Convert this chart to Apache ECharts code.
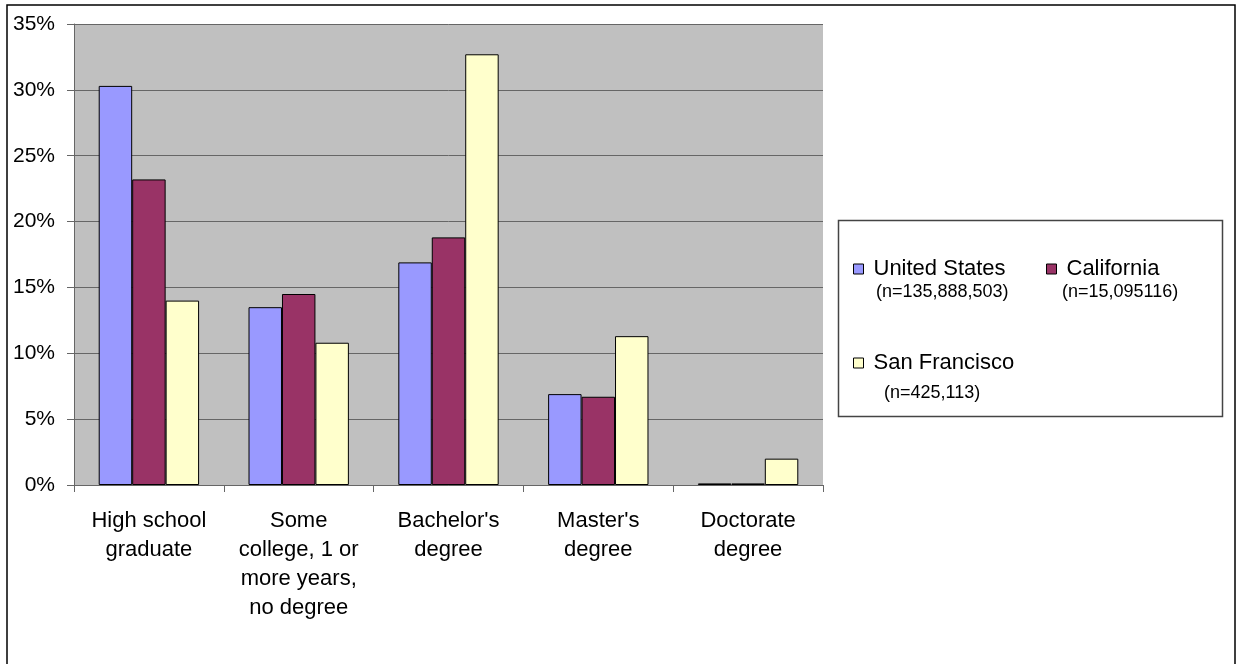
<!DOCTYPE html>
<html>
<head>
<meta charset="utf-8">
<script src="https://cdn.jsdelivr.net/npm/echarts@6/dist/echarts.min.js"></script>
<style>
  html, body { margin: 0; padding: 0; background: #fff; }
  #chart { width: 1236px; height: 664px; }
</style>
</head>
<body>
<div id="chart"></div>
<script>
// Educational attainment, share of population (%)
const categories = [
  'High school\ngraduate',
  'Some\ncollege, 1 or\nmore years,\nno degree',
  "Bachelor's\ndegree",
  "Master's\ndegree",
  'Doctorate\ndegree'
];
const seriesNames = ['United States', 'California', 'San Francisco'];
const sampleSizes = ['(n=135,888,503)', '(n=15,095116)', '(n=425,113)'];
const unitedStates = [30.3, 13.5, 16.9, 6.9, 0.12];
const california   = [23.2, 14.5, 18.8, 6.7, 0.12];
const sanFrancisco = [14.0, 10.8, 32.7, 11.3, 2.0];
const yTicks = { min: 0, max: 35, interval: 5 };

const colors = ['#9999FF', '#993366', '#FFFFCC'];
const values = [unitedStates, california, sanFrancisco];
const FONT = '"Liberation Sans", Arial, sans-serif';

const chart = echarts.init(document.getElementById('chart'), null, { renderer: 'canvas' });

const series = seriesNames.map((name, i) => ({
  name: name,
  type: 'bar',
  data: values[i],
  barGap: '0%',
  barCategoryGap: '33%',
  itemStyle: { color: colors[i], borderColor: '#000', borderWidth: 1 },
  emphasis: { disabled: true }
}));

const legendBase = {
  orient: 'horizontal',
  selectedMode: false,
  icon: 'rect',
  itemWidth: 10,
  itemHeight: 10,
  itemStyle: { borderColor: '#000', borderWidth: 1 },
  textStyle: { fontFamily: FONT, fontSize: 22, color: '#000', lineHeight: 24, padding: [0, 0, 0, 5] },
  padding: 0
};

chart.setOption({
  animation: false,
  backgroundColor: '#fff',
  textStyle: { fontFamily: FONT },
  grid: { left: 74, top: 24, right: 413, bottom: 179, show: true, backgroundColor: '#C0C0C0', borderWidth: 0 },
  legend: [
    Object.assign({}, legendBase, { data: [seriesNames[0]], left: 853, top: 257 }),
    Object.assign({}, legendBase, { data: [seriesNames[1]], left: 1046, top: 257 }),
    Object.assign({}, legendBase, { data: [seriesNames[2]], left: 853, top: 351 })
  ],
  xAxis: {
    type: 'category',
    data: categories,
    axisLine: { lineStyle: { color: '#666', width: 1 } },
    axisTick: { show: true, length: 7, lineStyle: { color: '#666' } },
    axisLabel: { fontFamily: FONT, fontSize: 22, color: '#000', lineHeight: 29, margin: 21, interval: 0 }
  },
  yAxis: {
    type: 'value',
    min: yTicks.min,
    max: yTicks.max,
    interval: yTicks.interval,
    axisLine: { show: true, lineStyle: { color: '#666', width: 1 } },
    axisTick: { show: true, length: 7, lineStyle: { color: '#666' } },
    axisLabel: { fontFamily: FONT, fontSize: 21, color: '#000', margin: 19, formatter: '{value}%' },
    splitLine: { show: true, lineStyle: { color: '#666', width: 1 } }
  },
  series: series,
  graphic: [
    {
      type: 'rect', silent: true,
      shape: { x: 7, y: 5, width: 1228, height: 720 },
      style: { fill: 'none', stroke: '#000', lineWidth: 1.5 }
    },
    {
      type: 'rect', silent: true,
      shape: { x: 838.5, y: 220.5, width: 384, height: 196 },
      style: { fill: 'none', stroke: '#444', lineWidth: 1.5 }
    },
    { type: 'text', silent: true, left: 876, top: 283,
      style: { text: sampleSizes[0], font: '18px ' + FONT, fill: '#000' } },
    { type: 'text', silent: true, left: 1062, top: 283,
      style: { text: sampleSizes[1], font: '18px ' + FONT, fill: '#000' } },
    { type: 'text', silent: true, left: 884, top: 384,
      style: { text: sampleSizes[2], font: '18px ' + FONT, fill: '#000' } }
  ]
});
</script>
</body>
</html>
